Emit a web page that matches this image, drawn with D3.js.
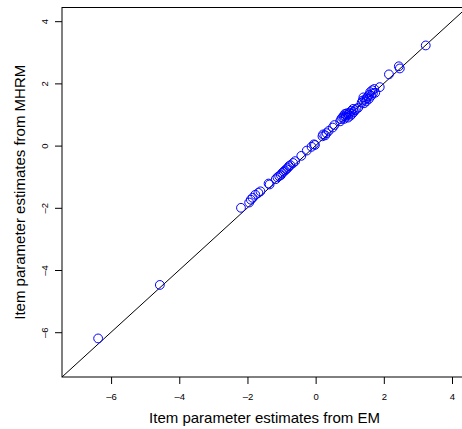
<!DOCTYPE html>
<html>
<head>
<meta charset="utf-8">
<script src="https://cdn.jsdelivr.net/npm/d3@7"></script>
<style>
  html, body { margin: 0; padding: 0; background: #fff; }
  svg { display: block; font-family: "Liberation Sans", Arial, Helvetica, sans-serif; }
</style>
</head>
<body>
<div id="chart"></div>
<script>
(function () {
  'use strict';

  // item parameter estimates, EM (x) vs MHRM (y)
  var emEstimates = [
    -6.38, -4.57, -2.19, -1.95, -1.90, -1.85, -1.77, -1.68, -1.62, -1.38,
    -1.35, -1.17, -1.12, -1.07, -1.02, -0.98, -0.94, -0.90, -0.86, -0.82,
    -0.78, -0.74, -0.66, -0.60, -0.42, -0.26, -0.12, -0.05, -0.02, 0.20,
    0.22, 0.28, 0.32, 0.38, 0.50, 0.55, 0.72, 0.75, 0.78, 0.82,
    0.84, 0.86, 0.88, 0.90, 0.92, 0.95, 0.97, 1.00, 1.02, 1.05,
    1.07, 1.10, 1.12, 1.15, 1.20, 1.25, 1.35, 1.38, 1.40, 1.42,
    1.45, 1.48, 1.50, 1.53, 1.56, 1.58, 1.60, 1.63, 1.66, 1.68,
    1.72, 1.75, 1.88, 2.15, 2.44, 2.47, 3.23
  ];
  var mhrmEstimates = [
    -6.20, -4.48, -2.00, -1.83, -1.74, -1.68, -1.58, -1.52, -1.47, -1.22,
    -1.25, -1.08, -1.02, -0.98, -0.95, -0.88, -0.84, -0.80, -0.76, -0.72,
    -0.66, -0.63, -0.56, -0.50, -0.33, -0.16, -0.04, 0.04, 0.02, 0.30,
    0.36, 0.33, 0.40, 0.47, 0.58, 0.66, 0.78, 0.85, 0.90, 0.95,
    0.86, 1.02, 0.93, 0.98, 1.04, 0.90, 1.00, 1.06, 0.96, 1.12,
    1.02, 1.18, 1.08, 1.14, 1.18, 1.22, 1.38, 1.45, 1.55, 1.36,
    1.48, 1.42, 1.52, 1.58, 1.50, 1.64, 1.72, 1.60, 1.78, 1.68,
    1.82, 1.70, 1.88, 2.29, 2.55, 2.48, 3.22
  ];
  var axisLimits = [-7.44, 4.44];
  var xTicks = [-6, -4, -2, 0, 2, 4];
  var yTicks = [-6, -4, -2, 0, 2, 4];

  var width = 462,
    height = 429,
    left = 62, right = 467, top = 7.5, bottom = 377;

  var x = d3.scaleLinear().domain(axisLimits).range([left, right]);
  var y = d3.scaleLinear().domain(axisLimits).range([bottom, top]);

  var svg = d3.select('#chart')
    .append('svg')
    .attr('width', width)
    .attr('height', height);

  // y = x reference line
  svg.append('line')
    .attr('x1', x(axisLimits[0])).attr('y1', y(axisLimits[0]))
    .attr('x2', x(axisLimits[1])).attr('y2', y(axisLimits[1]))
    .attr('stroke', '#000').attr('stroke-width', 1);

  svg.append('g')
    .selectAll('circle')
    .data(emEstimates)
    .enter()
    .append('circle')
    .attr('cx', function (d) { return x(d); })
    .attr('cy', function (d, i) { return y(mhrmEstimates[i]); })
    .attr('r', 4.4)
    .attr('fill', 'none')
    .attr('stroke', '#0000ff')
    .attr('stroke-width', 1);

  // frame
  svg.append('rect')
    .attr('x', left).attr('y', top)
    .attr('width', right - left).attr('height', bottom - top)
    .attr('fill', 'none').attr('stroke', '#000').attr('stroke-width', 1);

  var fmt = function (d) { return d < 0 ? '\u2013' + Math.abs(d) : String(d); };

  var xAxis = svg.append('g')
    .attr('transform', 'translate(0,' + bottom + ')')
    .call(d3.axisBottom(x).tickValues(xTicks).tickSizeOuter(0).tickSize(7).tickPadding(9).tickFormat(fmt));
  xAxis.select('.domain').remove();
  xAxis.selectAll('text').attr('font-size', 9.5).attr('font-family', null).attr('fill', '#000');

  var yAxis = svg.append('g')
    .attr('transform', 'translate(' + left + ',0)')
    .call(d3.axisLeft(y).tickValues(yTicks).tickSizeOuter(0).tickSize(7).tickFormat(fmt));
  yAxis.select('.domain').remove();
  yAxis.selectAll('text')
    .attr('x', null).attr('dy', null)
    .attr('text-anchor', 'middle')
    .attr('transform', 'translate(-14,0) rotate(-90)')
    .attr('font-size', 9.5).attr('font-family', null).attr('fill', '#000');

  svg.append('text')
    .attr('x', (left + right) / 2).attr('y', 422.5)
    .attr('text-anchor', 'middle')
    .attr('font-size', 15)
    .text('Item parameter estimates from EM');

  svg.append('text')
    .attr('transform', 'translate(24.5,' + (top + bottom) / 2 + ') rotate(-90)')
    .attr('text-anchor', 'middle')
    .attr('font-size', 15)
    .text('Item parameter estimates from MHRM');
}());
</script>
</body>
</html>
